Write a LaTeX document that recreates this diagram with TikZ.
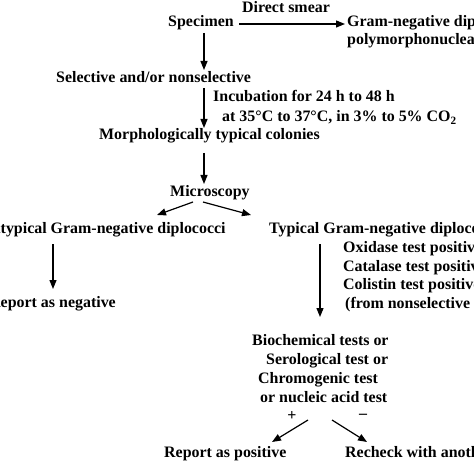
\documentclass[tikz,border=0pt]{standalone}
\usepackage{fontspec}
\setmainfont{Liberation Serif}
\usetikzlibrary{arrows.meta}
\begin{document}
\begin{tikzpicture}[x=1bp,y=-1bp,
  txt/.style={inner sep=0pt,font=\fontsize{16}{18}\selectfont\bfseries},
  lt/.style={txt,anchor=base west},
  rt/.style={txt,anchor=base east},
  arr/.style={line width=1.2bp,-{Triangle[length=9bp,width=7bp]}}]
\useasboundingbox (0,0) rectangle (474,474);
\clip (0,0) rectangle (474,474);
% texts
\node[txt,anchor=base] (smear) at (286,13) {Direct smear};
\node[lt] (spec) at (168,27) {Specimen};
\node[lt] (gram) at (347,27) {Gram-negative diplococci and};
\node[lt] (poly) at (347,45) {polymorphonuclear leukocytes};
\node[lt] (sel) at (56,83) {Selective and/or nonselective};
\node[lt] (inc1) at (213,102) {Incubation for 24 h to 48 h};
\node[lt] (inc2) at (222,122) {at 35°C to 37°C, in 3\% to 5\% CO\textsubscript{2}};
\node[lt] (morph) at (99,140) {Morphologically typical colonies};
\node[lt] (micro) at (170,197) {Microscopy};
\node[lt] (atyp) at (-11,234) {Atypical Gram-negative diplococci};
\node[lt] (typ) at (269,234) {Typical Gram-negative diplococci};
\node[lt] (oxi) at (343,252) {Oxidase test positive};
\node[lt] (cat) at (343,271) {Catalase test positive};
\node[lt] (col) at (343,289) {Colistin test positive};
\node[lt] (from) at (345,308) {(from nonselective medium)};
\node[lt] (neg) at (-11,307) {Report as negative};
\node[lt] (bio) at (252,345) {Biochemical tests or};
\node[lt] (sero) at (266,364) {Serological test or};
\node[lt] (chrom) at (258,383) {Chromogenic test};
\node[lt] (nuc) at (260,402) {or nucleic acid test};
\node[txt] (plus) at (292,416) {+};
\node[txt] (minus) at (363,416) {\textendash};
\node[lt] (pos) at (164,457) {Report as positive};
\node[lt] (rech) at (345,457) {Recheck with another test};
% connector ends
\coordinate (a1s) at (239,24); \coordinate (a1e) at (345,24);
\coordinate (a2s) at (204,33); \coordinate (a2e) at (204,70);
\coordinate (a3s) at (204,88); \coordinate (a3e) at (204,128);
\coordinate (a4s) at (204,153); \coordinate (a4e) at (204,184);
\coordinate (a5s) at (193,202); \coordinate (a5e) at (157,215);
\coordinate (a6s) at (203,202); \coordinate (a6e) at (251,215);
\coordinate (a7s) at (53,244); \coordinate (a7e) at (53,289);
\coordinate (a8s) at (320,244); \coordinate (a8e) at (320,317);
\coordinate (a9s) at (308,420); \coordinate (a9e) at (272,442);
\coordinate (a10s) at (332,420); \coordinate (a10e) at (367,442);
\draw[arr] (a1s) -- (a1e);
\draw[arr] (a2s) -- (a2e);
\draw[arr] (a3s) -- (a3e);
\draw[arr] (a4s) -- (a4e);
\draw[arr] (a5s) -- (a5e);
\draw[arr] (a6s) -- (a6e);
\draw[arr] (a7s) -- (a7e);
\draw[arr] (a8s) -- (a8e);
\draw[arr] (a9s) -- (a9e);
\draw[arr] (a10s) -- (a10e);
\end{tikzpicture}
\end{document}
